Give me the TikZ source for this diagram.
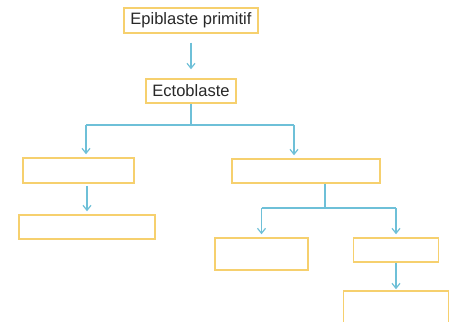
\documentclass[tikz,border=0pt]{standalone}
\usepackage{fontspec}
\setmainfont{Liberation Sans}
\usetikzlibrary{arrows.meta}
\definecolor{boxgold}{RGB}{246,208,110}
\definecolor{linkblue}{RGB}{110,192,216}
\definecolor{txtgray}{RGB}{40,40,40}
\tikzset{
  cell/.style={draw=boxgold, line width=1.5pt, inner sep=0pt, text=txtgray,
    font=\fontsize{16.5}{18}\selectfont},
  link/.style={draw=linkblue, line width=1.2pt},
  arr/.style={link, -{Straight Barb[length=5pt,width=8pt]}}
}
\begin{document}
\begin{tikzpicture}[x=1pt, y=-1pt]
            \useasboundingbox (0,0) rectangle (457,321);
            \clip (0,0) rectangle (457,321);
            \fill[white] (0,0) rectangle (457,321);
            \node[cell, minimum width=134pt, minimum height=25pt] (epi) at (191,20.5) {Epiblaste primitif};
            \node[cell, minimum width=90pt, minimum height=24pt] (ecto) at (191,91) {Ectoblaste};
            \node[cell, minimum width=111pt, minimum height=25pt] (g1) at (78.5,170.5) {};
            \node[cell, minimum width=136pt, minimum height=24pt] (g2) at (87,227) {};
            \node[cell, minimum width=148pt, minimum height=24pt] (d1) at (306,171) {};
            \node[cell, minimum width=93pt, minimum height=32pt] (d2) at (261.5,254) {};
            \node[cell, minimum width=85pt, minimum height=24pt] (d3) at (396,250) {};
            \node[cell, minimum width=105pt, minimum height=40pt] (d4) at (396,311) {};
            \coordinate (j1) at (191,125);
            \coordinate (j1g) at (86,125);
            \coordinate (j1d) at (294,125);
            \coordinate (j2) at (325,208);
            \coordinate (j2g) at (261.5,208);
            \coordinate (j2d) at (396,208);
            \draw[arr, shorten <=9pt, shorten >=9pt] (epi.south) -- (ecto.north);
            \draw[link] (ecto.south) -- (j1);
            \draw[link] (j1g) -- (j1d);
            \draw[arr, shorten >=3pt] (j1g) -- (j1g |- g1.north);
            \draw[arr, shorten >=3pt] (j1d) -- (j1d |- d1.north);
            \draw[arr, shorten <=2pt, shorten >=3pt] (g2.north |- g1.south) -- (g2.north);
            \draw[link] (j2 |- d1.south) -- (j2);
            \draw[link] (j2g) -- (j2d);
            \draw[arr, shorten >=3pt] (j2g) -- (d2.north);
            \draw[arr, shorten >=3pt] (j2d) -- (d3.north);
            \draw[arr, shorten >=1pt] (d3.south) -- (d4.north);
        \end{tikzpicture}
\end{document}
